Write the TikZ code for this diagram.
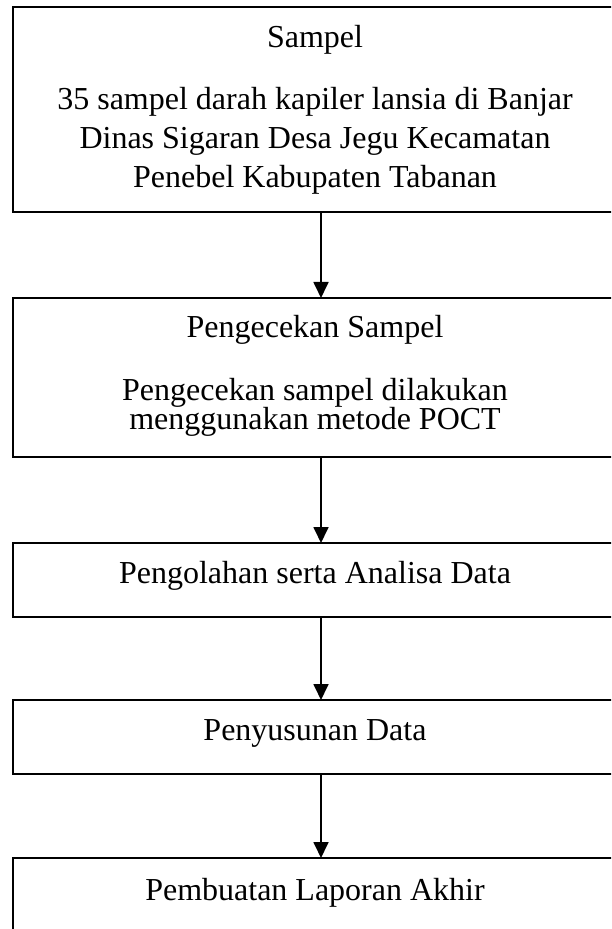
\documentclass[tikz,border=0pt]{standalone}
\usepackage{fontspec}
\setmainfont{Liberation Serif}
\usetikzlibrary{arrows.meta}

\begin{document}
\begin{tikzpicture}[x=0.375pt, y=-0.375pt,
  flowbox/.style={draw=black, line width=0.75pt, rectangle, inner sep=0pt, outer sep=0pt,
                  minimum width=227.06pt},
  label/.style={anchor=base, inner sep=0pt, font=\fontsize{12pt}{14pt}\selectfont},
  flow/.style={draw=black, line width=0.75pt, -{Triangle[width=5.6pt,length=6pt]}}]

  % page area; the boxes run past the right edge
  \clip (0,0) rectangle (611,929);
  \fill[white] (0,0) rectangle (611,929);

  % boxes
  \node[flowbox, minimum height=76.69pt] (b1) at (315.25,109.75) {};
  \node[flowbox, minimum height=59.44pt] (b2) at (315.25,377.25) {};
  \node[flowbox, minimum height=27.56pt] (b3) at (315.25,579.75) {};
  \node[flowbox, minimum height=27.75pt] (b4) at (315.25,737) {};
  \node[flowbox, minimum height=30.75pt] (b5) at (315.25,899) {};

  % texts
  \node[label] (t1a) at (315,48)  {Sampel};
  \node[label] (t1b) at (315,110) {35 sampel darah kapiler lansia di Banjar};
  \node[label] (t1c) at (315,149) {Dinas Sigaran Desa Jegu Kecamatan};
  \node[label] (t1d) at (315,188) {Penebel Kabupaten Tabanan};

  \node[label] (t2a) at (315,338) {Pengecekan Sampel};
  \node[label] (t2b) at (315,400) {Pengecekan sampel dilakukan};
  \node[label] (t2c) at (315,429) {menggunakan metode POCT};

  \node[label] (t3) at (315,583) {Pengolahan serta Analisa Data};
  \node[label] (t4) at (315,740) {Penyusunan Data};
  \node[label] (t5) at (315,900) {Pembuatan Laporan Akhir};

  % connectors
  \coordinate (ax) at (321,0);
  \draw[flow] (b1.south -| ax) -- (b2.north -| ax);
  \draw[flow] (b2.south -| ax) -- (b3.north -| ax);
  \draw[flow] (b3.south -| ax) -- (b4.north -| ax);
  \draw[flow] (b4.south -| ax) -- (b5.north -| ax);
\end{tikzpicture}
\end{document}
